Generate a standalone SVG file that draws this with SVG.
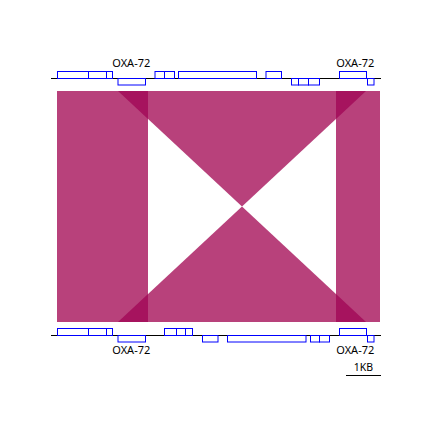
<svg xmlns="http://www.w3.org/2000/svg" width="432" height="432" viewBox="0 0 432 432">
<style>
.lt{fill:#b8417b;stroke:none}
.dk{fill:#a6135e;stroke:none}
.bx{fill:none;stroke:#0000ff;stroke-width:1}
.ax{stroke:#000;stroke-width:1;fill:none}
.lb{font-family:"Noto Sans","Liberation Sans",sans-serif;font-size:11px;fill:#000;text-anchor:middle}
</style>
<rect width="432" height="432" fill="#fff"/>
<g id="connectors">
<rect class="lt" x="57" y="91" width="91" height="231"/>
<rect class="lt" x="336" y="91" width="44" height="231"/>
<polygon class="lt" points="118,91 366,91 242,206.5"/>
<polygon class="lt" points="118,322 366,322 242,206.5"/>
<polygon class="dk" points="118,91 148,91 148,118.9"/>
<polygon class="dk" points="336,91 366,91 336,118.9"/>
<polygon class="dk" points="118,322 148,322 148,294.1"/>
<polygon class="dk" points="336,322 366,322 336,294.1"/>
</g>
<g id="top-track">
<line class="ax" x1="51" y1="78.5" x2="381" y2="78.5"/>
<rect class="bx" x="57.5" y="71.5" width="31" height="7"/>
<rect class="bx" x="88.5" y="71.5" width="18" height="7"/>
<rect class="bx" x="106.5" y="71.5" width="6" height="7"/>
<rect class="bx" x="155" y="71.5" width="9.5" height="7"/>
<rect class="bx" x="164.5" y="71.5" width="10" height="7"/>
<rect class="bx" x="178.5" y="71.5" width="78" height="7"/>
<rect class="bx" x="266" y="71.5" width="15.5" height="7"/>
<rect class="bx" x="339.5" y="71.5" width="27" height="7"/>
<rect class="bx" x="118" y="78.5" width="27.5" height="6.5"/>
<rect class="bx" x="291.5" y="78.5" width="7" height="6.5"/>
<rect class="bx" x="298.5" y="78.5" width="10" height="6.5"/>
<rect class="bx" x="308.5" y="78.5" width="11" height="6.5"/>
<rect class="bx" x="367.5" y="78.5" width="6.5" height="6.5"/>
<text class="lb" x="131.3" y="67.3">OXA-72</text>
<text class="lb" x="355.3" y="67.3">OXA-72</text>
</g>
<g id="bottom-track">
<line class="ax" x1="51" y1="335.5" x2="381" y2="335.5"/>
<rect class="bx" x="57.5" y="328.5" width="31" height="7"/>
<rect class="bx" x="88.5" y="328.5" width="18" height="7"/>
<rect class="bx" x="106.5" y="328.5" width="6" height="7"/>
<rect class="bx" x="164.5" y="328.5" width="12" height="7"/>
<rect class="bx" x="176.5" y="328.5" width="9" height="7"/>
<rect class="bx" x="185.5" y="328.5" width="7" height="7"/>
<rect class="bx" x="339.5" y="328.5" width="27" height="7"/>
<rect class="bx" x="118" y="335.5" width="27.5" height="6.5"/>
<rect class="bx" x="202.5" y="335.5" width="15.5" height="6.5"/>
<rect class="bx" x="227.5" y="335.5" width="78.5" height="6.5"/>
<rect class="bx" x="310.5" y="335.5" width="9" height="6.5"/>
<rect class="bx" x="319.5" y="335.5" width="10" height="6.5"/>
<rect class="bx" x="367.5" y="335.5" width="6.5" height="6.5"/>
<text class="lb" x="131.3" y="354.3">OXA-72</text>
<text class="lb" x="355.3" y="354.3">OXA-72</text>
</g>
<g id="scale">
<line class="ax" x1="346" y1="375.5" x2="381" y2="375.5"/>
<text class="lb" x="363.3" y="370.7" style="font-size:10.5px">1KB</text>
</g>
</svg>
